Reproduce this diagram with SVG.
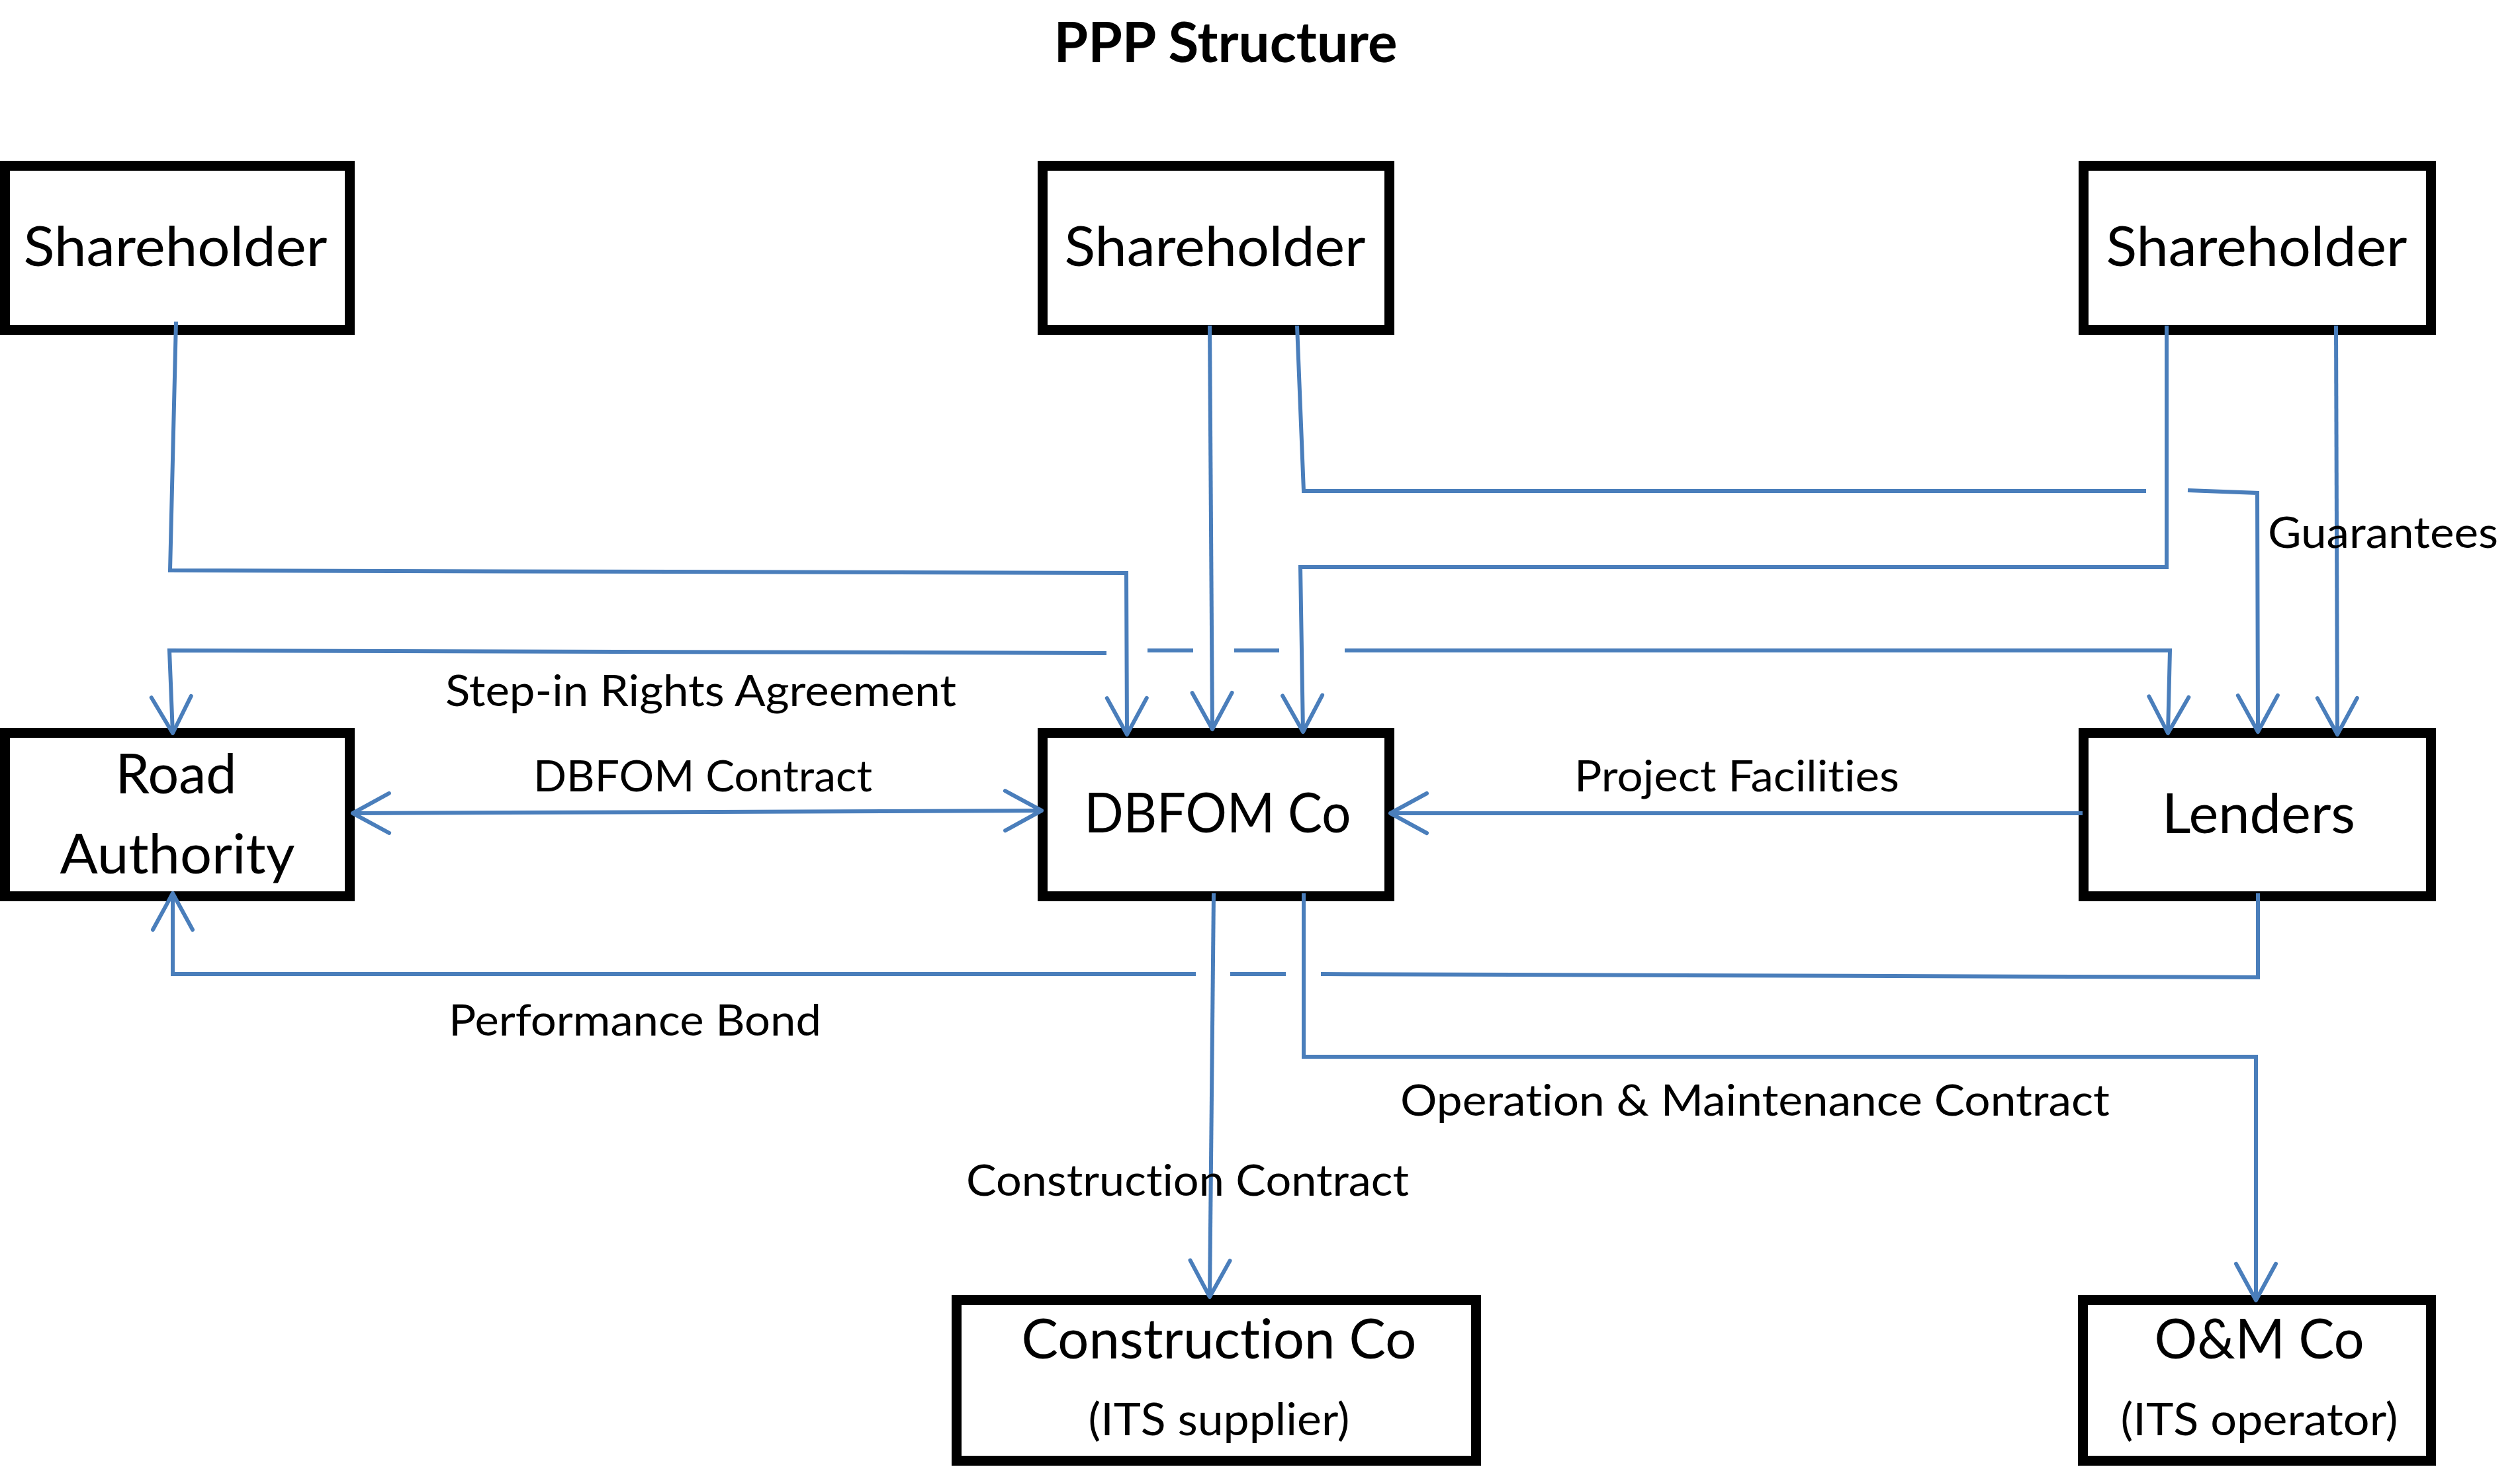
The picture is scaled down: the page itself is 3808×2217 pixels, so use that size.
<svg xmlns="http://www.w3.org/2000/svg" width="3808" height="2217" viewBox="0 0 3808 2217">
<style>
.box{fill:#fff;stroke:#000;stroke-width:15}
.t{font-family:Lato,"Liberation Sans",sans-serif;fill:#000;font-variant-ligatures:none;font-feature-settings:"liga" 0,"clig" 0}
.bt{font-size:83px;text-anchor:middle}
.st{font-size:68px;text-anchor:middle}
.lb{font-size:65px}
.ttl{font-size:84px;font-weight:bold;text-anchor:middle}
.c{fill:none;stroke:#4a7ebb;stroke-width:6}
</style>
<defs>
<marker id="arr" markerUnits="userSpaceOnUse" viewBox="-62 -36 68 72" markerWidth="68" markerHeight="72" refX="0" refY="0" orient="auto-start-reverse" overflow="visible">
<path d="M-55,-30 L0,0 L-55,30" fill="none" stroke="#4a7ebb" stroke-width="6" stroke-linecap="round" stroke-linejoin="round"/>
</marker>
</defs>
<rect width="3808" height="2217" fill="#fff"/>
<text class="t ttl" x="1852" y="94" textLength="519" lengthAdjust="spacingAndGlyphs">PPP Structure</text>
<g id="shareholder1"><rect class="box" x="7.5" y="250.5" width="521" height="248"/><text class="t bt" x="265" y="402" textLength="459" lengthAdjust="spacingAndGlyphs">Shareholder</text></g>
<g id="shareholder2"><rect class="box" x="1575.5" y="250.5" width="524" height="248"/><text class="t bt" x="1836" y="402" textLength="455" lengthAdjust="spacingAndGlyphs">Shareholder</text></g>
<g id="shareholder3"><rect class="box" x="3148.5" y="250.5" width="525" height="248"/><text class="t bt" x="3410" y="402" textLength="455" lengthAdjust="spacingAndGlyphs">Shareholder</text></g>
<g id="road-authority"><rect class="box" x="7.5" y="1107.5" width="521" height="247"/><text class="t bt" x="266" y="1199" textLength="183" lengthAdjust="spacingAndGlyphs">Road</text><text class="t bt" x="268" y="1320" textLength="355" lengthAdjust="spacingAndGlyphs">Authority</text></g>
<g id="dbfom-co"><rect class="box" x="1575.5" y="1107.5" width="524" height="247"/><text class="t bt" x="1840" y="1258" textLength="403" lengthAdjust="spacingAndGlyphs">DBFOM Co</text></g>
<g id="lenders"><rect class="box" x="3148.5" y="1107.5" width="525" height="247"/><text class="t bt" x="3413" y="1259" textLength="292" lengthAdjust="spacingAndGlyphs">Lenders</text></g>
<g id="construction-co"><rect class="box" x="1445.5" y="1964.5" width="785" height="243"/><text class="t bt" x="1842" y="2053" textLength="597" lengthAdjust="spacingAndGlyphs">Construction Co</text><text class="t st" x="1842" y="2169" textLength="395" lengthAdjust="spacingAndGlyphs">(ITS supplier)</text></g>
<g id="om-co"><rect class="box" x="3147.5" y="1964.5" width="526" height="243"/><text class="t bt" x="3414" y="2053" textLength="317" lengthAdjust="spacingAndGlyphs">O&amp;M Co</text><text class="t st" x="3414" y="2169" textLength="419" lengthAdjust="spacingAndGlyphs">(ITS operator)</text></g>
<g id="connectors">
<path class="c" d="M266,486 L257,862 L1702,866 L1703,1110" marker-end="url(#arr)"/>
<path class="c" d="M1828,492 L1832,1102" marker-end="url(#arr)"/>
<path class="c" d="M1960,492 L1970,742 L3243,742"/>
<path class="c" d="M3306,741 L3411,745 L3412,1106" marker-end="url(#arr)"/>
<path class="c" d="M3274,492 L3274,857 L1965,857 L1969,1106" marker-end="url(#arr)"/>
<path class="c" d="M3530,492 L3532,1110" marker-end="url(#arr)"/>
<path class="c" d="M1672,987 L256,983 L261,1108" marker-end="url(#arr)"/>
<path class="c" d="M1734,983 L1803,983 M1865,983 L1933,983"/>
<path class="c" d="M2032,983 L3279,983 L3276,1108" marker-end="url(#arr)"/>
<path class="c" d="M533,1229 L1574,1225" marker-start="url(#arr)" marker-end="url(#arr)"/>
<path class="c" d="M3147,1229 L2101,1229" marker-end="url(#arr)"/>
<path class="c" d="M3412,1350 L3412,1477 L1996,1472"/>
<path class="c" d="M1859,1472 L1943,1472"/>
<path class="c" d="M1807,1472 L261,1472 L261,1350" marker-end="url(#arr)"/>
<path class="c" d="M1834,1350 L1828,1960" marker-end="url(#arr)"/>
<path class="c" d="M1970,1350 L1970,1597 L3409,1597 L3409,1965" marker-end="url(#arr)"/>
</g>
<g id="labels">
<text class="t lb" x="3427" y="828" textLength="348" lengthAdjust="spacingAndGlyphs">Guarantees</text>
<text class="t lb" x="673" y="1067" textLength="772" lengthAdjust="spacingAndGlyphs">Step-in Rights Agreement</text>
<text class="t lb" x="806" y="1196" textLength="512" lengthAdjust="spacingAndGlyphs">DBFOM Contract</text>
<text class="t lb" x="2379" y="1196" textLength="491" lengthAdjust="spacingAndGlyphs">Project Facilities</text>
<text class="t lb" x="678" y="1565" textLength="563" lengthAdjust="spacingAndGlyphs">Performance Bond</text>
<text class="t lb" x="2116" y="1686" textLength="1072" lengthAdjust="spacingAndGlyphs">Operation &amp; Maintenance Contract</text>
<text class="t lb" x="1460" y="1807" textLength="669" lengthAdjust="spacingAndGlyphs">Construction Contract</text>
</g>
</svg>
